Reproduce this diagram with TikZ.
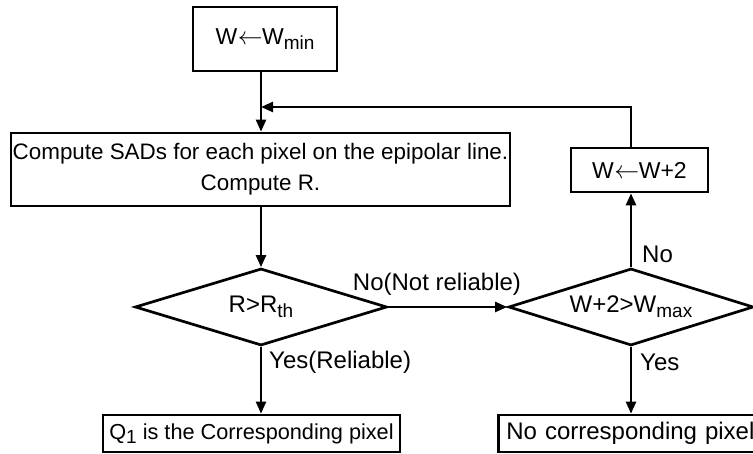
\documentclass[tikz,border=0pt]{standalone}
\usepackage{fontspec}
\setmainfont{Liberation Sans}
\usetikzlibrary{shapes.geometric,arrows.meta,calc}
\newcommand\sbs[1]{\raisebox{-0.4ex}{\fontsize{19}{19}\selectfont #1}}
\newcommand\larr{\kern0.5pt$\leftarrow$\kern-0.5pt}
\begin{document}
\begin{tikzpicture}[x=1pt,y=1pt,
  box/.style={draw,line width=2.7pt,inner sep=0pt,align=center,font=\fontsize{23}{31}\selectfont},
  dec/.style={draw,diamond,aspect=3.2,line width=2.7pt,inner sep=0pt,font=\fontsize{24}{26}\selectfont},
  flow/.style={line width=2.4pt,-{Triangle[length=12pt,width=10pt]}},
  lbl/.style={font=\fontsize{24}{26}\selectfont,inner sep=0pt}]
\useasboundingbox (0,0) rectangle (753,454);
\node[box,minimum width=144,minimum height=64] (top) at (265,415) {W\larr W\sbs{min}};
\node[box,minimum width=499,minimum height=73,font=\fontsize{22.4}{31}\selectfont] (mid) at (260.5,284.5) {Compute SADs for each pixel on the epipolar line.\\Compute R.};
\node[box,minimum width=137,minimum height=44] (inc) at (639.5,284) {W\larr W+2};
\node[dec,minimum width=252,minimum height=77] (d1) at (261,147) {R>R\sbs{th}};
\node[dec,minimum width=245,minimum height=77] (d2) at (631,147) {W+2>W\sbs{max}};
\node[box,minimum width=297,minimum height=37,font=\fontsize{21.7}{26}\selectfont] (q) at (251.5,20.5) {Q\sbs{1} is the Corresponding pixel};
\node[box,anchor=west,text width=260,inner xsep=8pt,minimum height=37,align=left,font=\fontsize{24}{26}\selectfont] (nc) at (497,20.5) {No corresponding pixel};
\coordinate (fbR) at (d2.north |- 0,347);
\coordinate (fbL) at (d1.north |- 0,347);
\draw[flow] (d1.north |- top.south) -- (d1.north |- mid.north);
\draw[flow] (d1.north |- mid.south) -- (d1.north);
\draw[flow] (d1.east) -- (d2.west);
\draw[flow] (d2.north) -- (d2.north |- inc.south);
\draw[flow] (d2.north |- inc.north) -- (fbR) -- (fbL);
\draw[flow] (d1.south) -- (d1.south |- q.north);
\draw[flow] (d2.south) -- (d2.south |- nc.north);
\node[lbl] (l1) at (437,170) {No(Not reliable)};
\node[lbl,anchor=west] (l2) at (269,92) {Yes(Reliable)};
\node[lbl,anchor=west] (l3) at (642,200) {No};
\node[lbl,anchor=west] (l4) at (640,92) {Yes};
\end{tikzpicture}
\end{document}
